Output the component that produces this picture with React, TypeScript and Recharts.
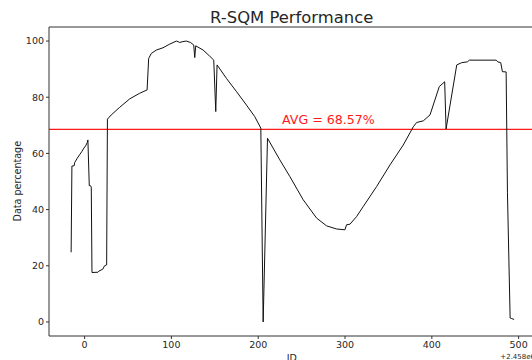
import React from 'react';
import { LineChart, Line, XAxis, YAxis, ReferenceLine } from 'recharts';

const ids = [
  -15.5, -14.6, -12, -11.5, -8.4, -5.8, -3.1, -0.8, 1.2, 3.1, 3.8, 5.4, 6.5, 7.7, 8.5, 15.4, 16.5, 21, 23, 25.4,
  26.3, 30.7, 40.4, 51.9, 63.4, 72, 73.8, 76.9, 82.7, 90.3, 98, 105.8, 109.6, 113.4, 117.2, 121.9, 125.7, 126.9, 128,
  136.5, 144.2, 148.8, 151.1, 152.6, 163.4, 175, 186.5, 196, 203, 205.7, 210.7, 224.9, 236.4, 251.8, 267.2, 278.8,
  290.3, 299.9, 301.8, 305.7, 313.3, 321, 336.4, 351.8, 367.1, 378.7, 382.5, 390.2, 397.9, 408.6, 414.8, 416.4,
  428.7, 434.4, 441, 443.3, 474.1, 476, 479.4, 481.3, 485.6, 487.1, 490.2, 492, 494.8,
];
const percentages = [
  24.8, 55.5, 55.6, 56.7, 58.3, 59.5, 60.7, 61.9, 62.7, 63.9, 64.8, 48.5, 48.6, 48.0, 17.6, 17.7, 18.1, 18.8, 20, 20.3,
  72.2, 73.7, 76.4, 79.4, 81.4, 82.6, 93.8, 95.6, 96.8, 97.6, 98.9, 100, 99.5, 99.8, 100, 99.5, 98.6, 94.1, 98.3,
  96.8, 94.6, 93.2, 74.9, 91.5, 86.7, 82, 77.2, 73.1, 69, 0, 65.4, 57.7, 51.8, 43.5, 37, 34.2,
  33.1, 32.8, 34.6, 34.8, 37.5, 41.1, 48.2, 55.9, 63, 69.5, 71, 71.6, 73.7, 83.8, 85.5, 68.7,
  91.5, 92.3, 92.6, 93.2, 93.2, 92.6, 92.3, 89.1, 89.0, 46.2, 1.4, 1.2, 0.9,
];
const xTicks = [0, 100, 200, 300, 400, 500];
const yTicks = [0, 20, 40, 60, 80, 100];
const average = 68.57;

const data = ids.map((id, i) => ({ id, pct: percentages[i] }));

const FONT = 'DejaVu Sans';
const TEXT = '#262626';
const SPINE = '#333333';
const RED = '#ff1a1a';

export default function App() {
  return (
    <div style={{ position: 'absolute', left: 0, top: 0, width: 532, height: 360, overflow: 'hidden', background: '#fff' }}>
      <LineChart width={580} height={360} data={data} margin={{ top: 27, right: 44, bottom: 0, left: 9 }}>
        <XAxis
          type="number"
          dataKey="id"
          domain={[-41, 520]}
          ticks={xTicks}
          allowDataOverflow
          height={24}
          tickSize={3}
          tickMargin={2.5}
          stroke={SPINE}
          tick={{ fontSize: 9.5, fill: TEXT, fontFamily: FONT }}
          tickLine={{ stroke: SPINE }}
        />
        <YAxis
          type="number"
          domain={[-5, 105]}
          ticks={yTicks}
          allowDataOverflow
          width={40}
          tickSize={3}
          tickMargin={2}
          stroke={SPINE}
          tick={{ fontSize: 9.5, fill: TEXT, fontFamily: FONT }}
          tickLine={{ stroke: SPINE }}
        />
        <ReferenceLine y={105} stroke={SPINE} strokeWidth={1} />
        <ReferenceLine
          y={average}
          stroke={RED}
          strokeWidth={1.2}
          label={(props: any) => {
            const vb = props.viewBox || {};
            return (
              <text x={(vb.x || 0) + 233} y={(vb.y || 0) - 5} fill={RED} fontSize={12.6} fontFamily={FONT}>
                {`AVG = ${average}%`}
              </text>
            );
          }}
        />
        <Line
          type="linear"
          dataKey="pct"
          stroke="#111111"
          strokeWidth={1}
          dot={false}
          isAnimationActive={false}
        />
      </LineChart>
      <svg width={532} height={360} style={{ position: 'absolute', left: 0, top: 0, pointerEvents: 'none' }}>
        <text x={291.7} y={23} textAnchor="middle" fontSize={16.4} fill={TEXT} fontFamily={FONT}>
          R-SQM Performance
        </text>
        <text
          x={21.5}
          y={181.2}
          textAnchor="middle"
          fontSize={9.6}
          fill={TEXT}
          fontFamily={FONT}
          transform="rotate(-90 21.5 181.2)"
        >
          Data percentage
        </text>
        <text x={291.7} y={360.5} textAnchor="middle" fontSize={9.5} fill={TEXT} fontFamily={FONT}>
          ID
        </text>
        <text x={535} y={359} textAnchor="end" fontSize={7} fill={TEXT} fontFamily={FONT}>
          +2.458e6
        </text>
      </svg>
    </div>
  );
}
